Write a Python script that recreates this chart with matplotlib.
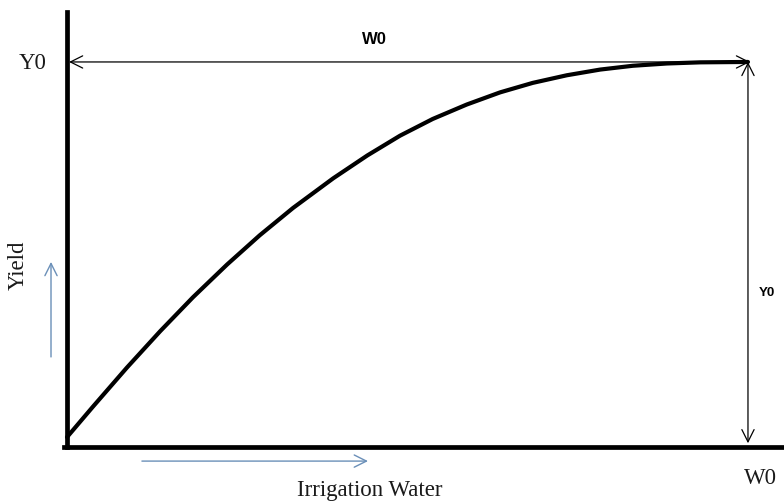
import matplotlib
matplotlib.use("Agg")
import matplotlib.pyplot as plt

# relative irrigation water (W0 = 1) and relative yield (Y0 = 1)
water = [0.0, 0.038, 0.088, 0.137, 0.185, 0.235, 0.283, 0.332, 0.391, 0.441,
         0.489, 0.537, 0.587, 0.636, 0.684, 0.734, 0.783, 0.831, 0.881, 0.930, 1.0]
yld = [0.013, 0.093, 0.196, 0.292, 0.381, 0.467, 0.544, 0.616, 0.694, 0.754,
       0.806, 0.850, 0.888, 0.920, 0.945, 0.965, 0.980, 0.990, 0.996, 0.999, 1.0]

W0 = 1.0
Y0 = 1.0

fig = plt.figure(figsize=(7.84, 5.01), dpi=100)
ax = fig.add_axes([0, 0, 1, 1])
ax.set_xlim(-0.0984, 1.0529)
ax.set_ylim(-0.155, 1.163)

# axes drawn as thick spines
for s in ["top", "right"]:
    ax.spines[s].set_visible(False)
ax.spines["left"].set_position(("data", 0))
ax.spines["left"].set_bounds(-0.013, 1.132)
ax.spines["bottom"].set_position(("data", -0.013))
ax.spines["bottom"].set_bounds(-0.005, 1.0529)
for s in ["left", "bottom"]:
    ax.spines[s].set_linewidth(3.4)
    ax.spines[s].set_capstyle("projecting")
ax.set_xticks([])
ax.set_yticks([])

# production curve
ax.plot(water, yld, color="black", lw=3.0, solid_capstyle="round",
        solid_joinstyle="round")

# W0 and Y0 dimension arrows
ax.annotate("", xy=(0.003, Y0), xytext=(W0 + 0.003, Y0),
            arrowprops=dict(arrowstyle="<->", color="black", lw=0.9,
                            mutation_scale=22, shrinkA=0, shrinkB=0))
ax.annotate("", xy=(W0, Y0), xytext=(W0, -0.003),
            arrowprops=dict(arrowstyle="<->", color="black", lw=0.9,
                            mutation_scale=22, shrinkA=0, shrinkB=0))

# blue direction arrows
blue = "#6a8fb8"
ax.annotate("", xy=(-0.0235, 0.474), xytext=(-0.0235, 0.224),
            arrowprops=dict(arrowstyle="->", color=blue, lw=1.0,
                            mutation_scale=22, shrinkA=0, shrinkB=0))
ax.annotate("", xy=(0.442, -0.05), xytext=(0.110, -0.05),
            arrowprops=dict(arrowstyle="->", color=blue, lw=1.0,
                            mutation_scale=22, shrinkA=0, shrinkB=0))

# labels
serif = dict(family="Liberation Serif", fontsize=16.5, color="#1a1a1a")
ax.text(-0.05, 0.995, "Y0", ha="center", va="center", **serif)
ax.text(1.018, -0.095, "W0", ha="center", va="center", **serif)
ax.text(0.445, -0.128, "Irrigation Water", ha="center", va="center", **serif)
ax.text(-0.072, 0.466, "Yield", ha="center", va="center", rotation=90, **serif)

ax.text(0.452, 1.058, "W0", ha="center", va="center",
        family="Liberation Sans", fontweight="bold", fontsize=12)
ax.text(1.028, 0.392, "Y0", ha="center", va="center",
        family="Liberation Sans", fontweight="bold", fontsize=9.5)

fig.savefig("out.png", dpi=100)
